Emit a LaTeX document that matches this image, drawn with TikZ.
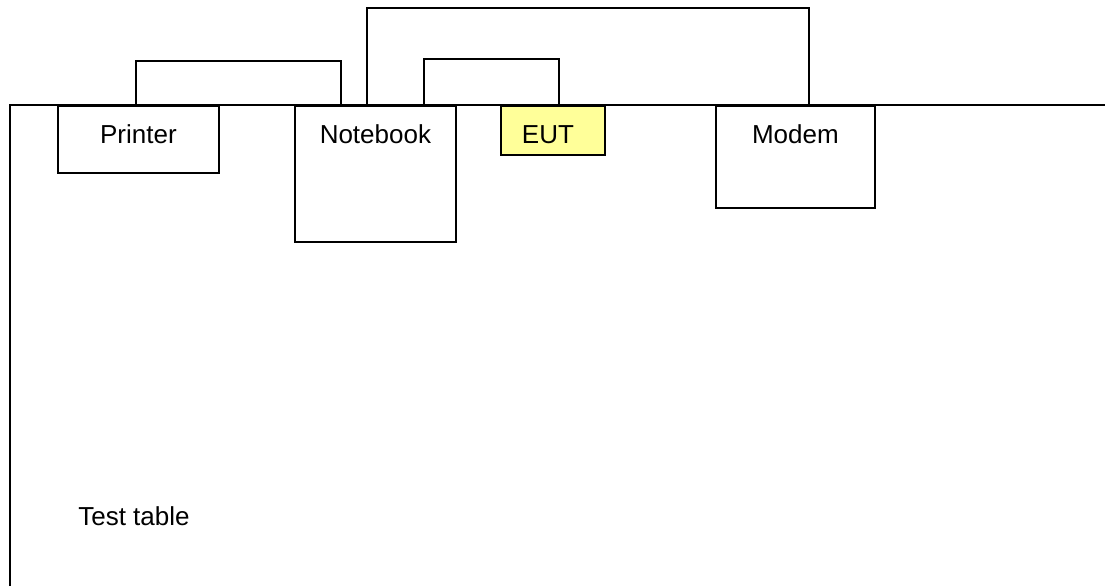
\documentclass[tikz,border=0pt]{standalone}
\usepackage{fontspec}
\setmainfont{Liberation Sans}
\usetikzlibrary{positioning,calc}
\definecolor{ink}{HTML}{000000}
\definecolor{eutfill}{HTML}{FFFF99}
\tikzset{
  dev/.style={draw=ink, line width=1.3pt, fill=white, anchor=north west, align=center,
              inner xsep=0pt, inner ysep=0pt, text height=0.95cm,
              font=\fontsize{18.5}{22}\selectfont},
  tbl/.style={draw=ink, line width=1.5pt},
  tlabel/.style={anchor=base west, inner sep=0pt, font=\fontsize{18.5}{22}\selectfont},
  % ---- cable running over the table edge ----
  wire/.style={line width=1.3pt, draw=ink,
    to path={(\tikztostart) -- ++(0,#1) -| (\tikztotarget)}},
}
\begin{document}
\begin{tikzpicture}
\useasboundingbox (0,0) rectangle (27.625,-14.65);
% test table
\coordinate (tl) at (0.25,-2.625);
\draw[tbl] (0.25,-14.65) -- (tl) -- (27.625,-2.625);
\node[tlabel] (table) at (1.95,-13.125) {Test table};
% devices on the table
\node[dev, minimum width=4.025cm, text depth=0.725cm] (printer) at (1.425,-2.625) {Printer};
\node[dev, minimum width=4.025cm, text depth=2.45cm] (notebook) at (7.35,-2.625) {Notebook};
\node[dev, fill=eutfill, minimum width=2.6cm, text depth=0.275cm] (eut) at (12.5,-2.625) {EUT\hspace{0.25cm}};
\node[dev, minimum width=3.975cm, text depth=1.6cm] (modem) at (17.875,-2.625) {Modem};
% cables
\draw[wire=1.1] ([xshift=-0.0625cm]printer.north) to ([xshift=-0.8625cm]notebook.north);
\draw[wire=2.425] ([xshift=-0.2125cm]notebook.north) to ([xshift=0.3375cm]modem.north);
\draw[wire=1.15] ([xshift=1.2125cm]notebook.north) to ([xshift=0.15cm]eut.north);
\end{tikzpicture}
\end{document}
